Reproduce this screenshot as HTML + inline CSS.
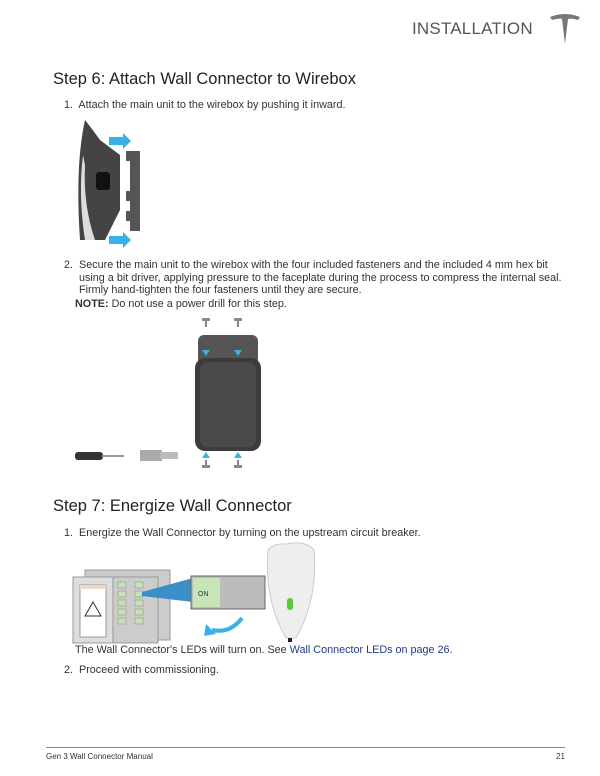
<!DOCTYPE html>
<html><head><meta charset="utf-8"><style>
body{margin:0;width:600px;height:776px;background:#fff;position:relative;overflow:hidden;font-family:"Liberation Sans",sans-serif;color:#333}
.a{position:absolute;white-space:nowrap}
h2{position:absolute;margin:0;font-weight:normal;font-size:16.5px;color:#222}
.t{font-size:10.8px;color:#333;line-height:12.5px}
</style></head><body>
<div class="a" style="left:412px;top:19px;font-size:17px;color:#555;letter-spacing:0.2px">INSTALLATION</div>
<svg class="a" style="left:547px;top:12px" width="36" height="34" viewBox="0 0 36 34"><path d="M3 5 Q18 -1 33 5 L31 8 Q24 6 21 7 L18 32 L15 7 Q12 6 5 8 Z" fill="#777"/></svg>
<h2 style="left:53px;top:70px">Step 6: Attach Wall Connector to Wirebox</h2>
<div class="a t" style="left:64px;top:99px">1.&nbsp; Attach the main unit to the wirebox by pushing it inward.</div>
<svg class="a" style="left:75px;top:115px" width="90" height="135">
<path d="M10 5 Q0 50 5 125 L30 125 L45 95 L45 40 L25 25 Q18 15 10 5Z" fill="#444"/>
<path d="M8 40 Q3 80 10 125 L20 125 Q8 90 10 50Z" fill="#ddd"/>
<rect x="21" y="57" width="14" height="18" rx="3" fill="#111"/>
<rect x="34" y="22" width="14" height="8" fill="#3ab0e8"/><polygon points="48,18 56,26 48,34" fill="#3ab0e8"/>
<rect x="34" y="121" width="14" height="8" fill="#3ab0e8"/><polygon points="48,117 56,125 48,133" fill="#3ab0e8"/>
<path d="M55 36h10v80h-10v-10h-4v-10h4v-10h-4v-10h4v-30h-4v-10z" fill="#555"/>
</svg>
<div class="a t" style="left:64px;top:259px">2.&nbsp; Secure the main unit to the wirebox with the four included fasteners and the included 4 mm hex bit<br>&nbsp;&nbsp;&nbsp;&nbsp;&nbsp;using a bit driver, applying pressure to the faceplate during the process to compress the internal seal.<br>&nbsp;&nbsp;&nbsp;&nbsp;&nbsp;Firmly hand-tighten the four fasteners until they are secure.</div>
<div class="a t" style="left:75px;top:298px"><b>NOTE:</b> Do not use a power drill for this step.</div>
<svg class="a" style="left:60px;top:310px" width="220" height="170">
<rect x="138" y="25" width="60" height="30" rx="6" fill="#555"/>
<rect x="135" y="48" width="66" height="93" rx="10" fill="#3c3c3c"/>
<rect x="140" y="52" width="56" height="85" rx="8" fill="#4a4a4a"/>
<g fill="#888"><rect x="142" y="8" width="8" height="3"/><rect x="145" y="11" width="2" height="6"/><rect x="174" y="8" width="8" height="3"/><rect x="177" y="11" width="2" height="6"/>
<rect x="142" y="155" width="8" height="3"/><rect x="145" y="150" width="2" height="6"/><rect x="174" y="155" width="8" height="3"/><rect x="177" y="150" width="2" height="6"/></g>
<g fill="#3ab0e8"><polygon points="142,40 150,40 146,46"/><polygon points="174,40 182,40 178,46"/><polygon points="142,148 150,148 146,142"/><polygon points="174,148 182,148 178,142"/></g>
<rect x="15" y="142" width="28" height="8" rx="3" fill="#333"/><rect x="42" y="145" width="22" height="2" fill="#999"/>
<rect x="80" y="140" width="22" height="11" fill="#aaa"/><rect x="100" y="142" width="18" height="7" fill="#bbb"/>
</svg>
<h2 style="left:53px;top:497px">Step 7: Energize Wall Connector</h2>
<div class="a t" style="left:64px;top:527px">1.&nbsp; Energize the Wall Connector by turning on the upstream circuit breaker.</div>
<svg class="a" style="left:60px;top:540px" width="270" height="110">
<rect x="25" y="30" width="85" height="70" fill="#ccc" stroke="#999"/>
<rect x="13" y="37" width="40" height="66" fill="#ddd" stroke="#999"/>
<rect x="20" y="45" width="26" height="52" fill="#fff" stroke="#999"/>
<rect x="20" y="45" width="26" height="4" fill="#f0d8c8"/>
<polygon points="33,62 25,76 41,76" fill="none" stroke="#333"/>
<rect x="53" y="37" width="45" height="66" fill="#ccc" stroke="#999"/>
<g fill="#c5e3b3" stroke="#888" stroke-width="0.5"><rect x="58" y="42" width="8" height="6"/><rect x="58" y="51" width="8" height="6"/><rect x="58" y="60" width="8" height="6"/><rect x="58" y="69" width="8" height="6"/><rect x="58" y="78" width="8" height="6"/><rect x="75" y="42" width="8" height="6"/><rect x="75" y="51" width="8" height="6"/><rect x="75" y="60" width="8" height="6"/><rect x="75" y="69" width="8" height="6"/><rect x="75" y="78" width="8" height="6"/></g>
<polygon points="82,52 133,38 133,62 82,56" fill="#3a8fc8"/>
<rect x="131" y="36" width="74" height="33" fill="#bbb" stroke="#666"/>
<rect x="133" y="38" width="27" height="29" fill="#c8e6b5"/>
<text x="138" y="56" font-size="7" font-family="Liberation Sans" fill="#333">ON</text>
<path d="M152 90 Q170 94 182 78" fill="none" stroke="#3ab0e8" stroke-width="4"/><polygon points="146,84 156,94 144,96" fill="#3ab0e8"/>
<path d="M226 4 Q246 0 254 10 Q258 60 236 98 L226 98 Q204 60 208 10 Q214 3 226 4Z" fill="#eee" stroke="#ccc"/>
<rect x="227" y="58" width="6" height="12" rx="3" fill="#5c3"/>
<rect x="228" y="98" width="4" height="4" fill="#222"/>
</svg>
<div class="a t" style="left:75px;top:644px">The Wall Connector's LEDs will turn on. See <span style="color:#1f3c88">Wall Connector LEDs on page 26</span>.</div>
<div class="a t" style="left:64px;top:664px">2.&nbsp; Proceed with commissioning.</div>
<div class="a" style="left:46px;top:747px;width:519px;border-top:1px solid #888"></div>
<div class="a" style="left:46px;top:752px;font-size:8px;color:#333">Gen 3 Wall Connector Manual</div>
<div class="a" style="left:556px;top:752px;font-size:8px;color:#333">21</div>
</body></html>
